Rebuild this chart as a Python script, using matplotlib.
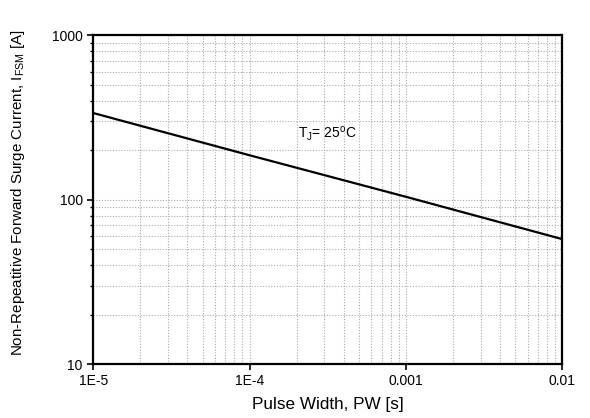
import numpy as np
import matplotlib
matplotlib.use('Agg')
import matplotlib.pyplot as plt
from matplotlib.ticker import LogLocator, NullFormatter

# Data (straight line on log-log)
pulse_width = [1e-5, 1e-4, 1e-3, 1e-2]
surge_current = [336, 186, 104, 57.5]

x_ticks = [1e-5, 1e-4, 1e-3, 1e-2]
x_labels = ['1E-5', '1E-4', '0.001', '0.01']
y_ticks = [10, 100, 1000]
y_labels = ['10', '100', '1000']

plt.rcParams['font.family'] = ['Liberation Sans', 'DejaVu Sans']
plt.rcParams['mathtext.default'] = 'regular'

fig = plt.figure(figsize=(5.9, 4.18), dpi=100)
ax = fig.add_axes([0.158, 0.129, 0.795, 0.787])

ax.plot(pulse_width, surge_current, color='black', lw=1.6)

ax.set_xscale('log')
ax.set_yscale('log')
ax.set_xlim(1e-5, 1e-2)
ax.set_ylim(10, 1000)

ax.set_xticks(x_ticks, x_labels)
ax.set_yticks(y_ticks, y_labels)
ax.xaxis.set_minor_locator(LogLocator(base=10, subs=np.arange(2, 10)))
ax.yaxis.set_minor_locator(LogLocator(base=10, subs=np.arange(2, 10)))
ax.xaxis.set_minor_formatter(NullFormatter())
ax.yaxis.set_minor_formatter(NullFormatter())

ax.grid(True, which='both', color='#aaaaaa', linestyle=(0, (1, 1.5)), lw=0.8)
ax.tick_params(which='major', length=4, width=1.2, labelsize=10, colors='black')
ax.tick_params(axis='y', which='minor', length=2.5, width=1)
ax.tick_params(axis='x', which='minor', length=0)
for sp in ax.spines.values():
    sp.set_linewidth(1.6)

ax.text(2.05e-4, 250, r'T$_J$= 25$^o$C', fontsize=10, va='center')

ax.set_xlabel('Pulse Width, PW [s]', fontsize=12.3, labelpad=6)
ax.set_ylabel(r'Non-Repeatitive Forward Surge Current, I$_{FSM}$ [A]', fontsize=10.9)
ax.yaxis.set_label_coords(-0.141, 0.52)

fig.savefig('out.png', dpi=100)
